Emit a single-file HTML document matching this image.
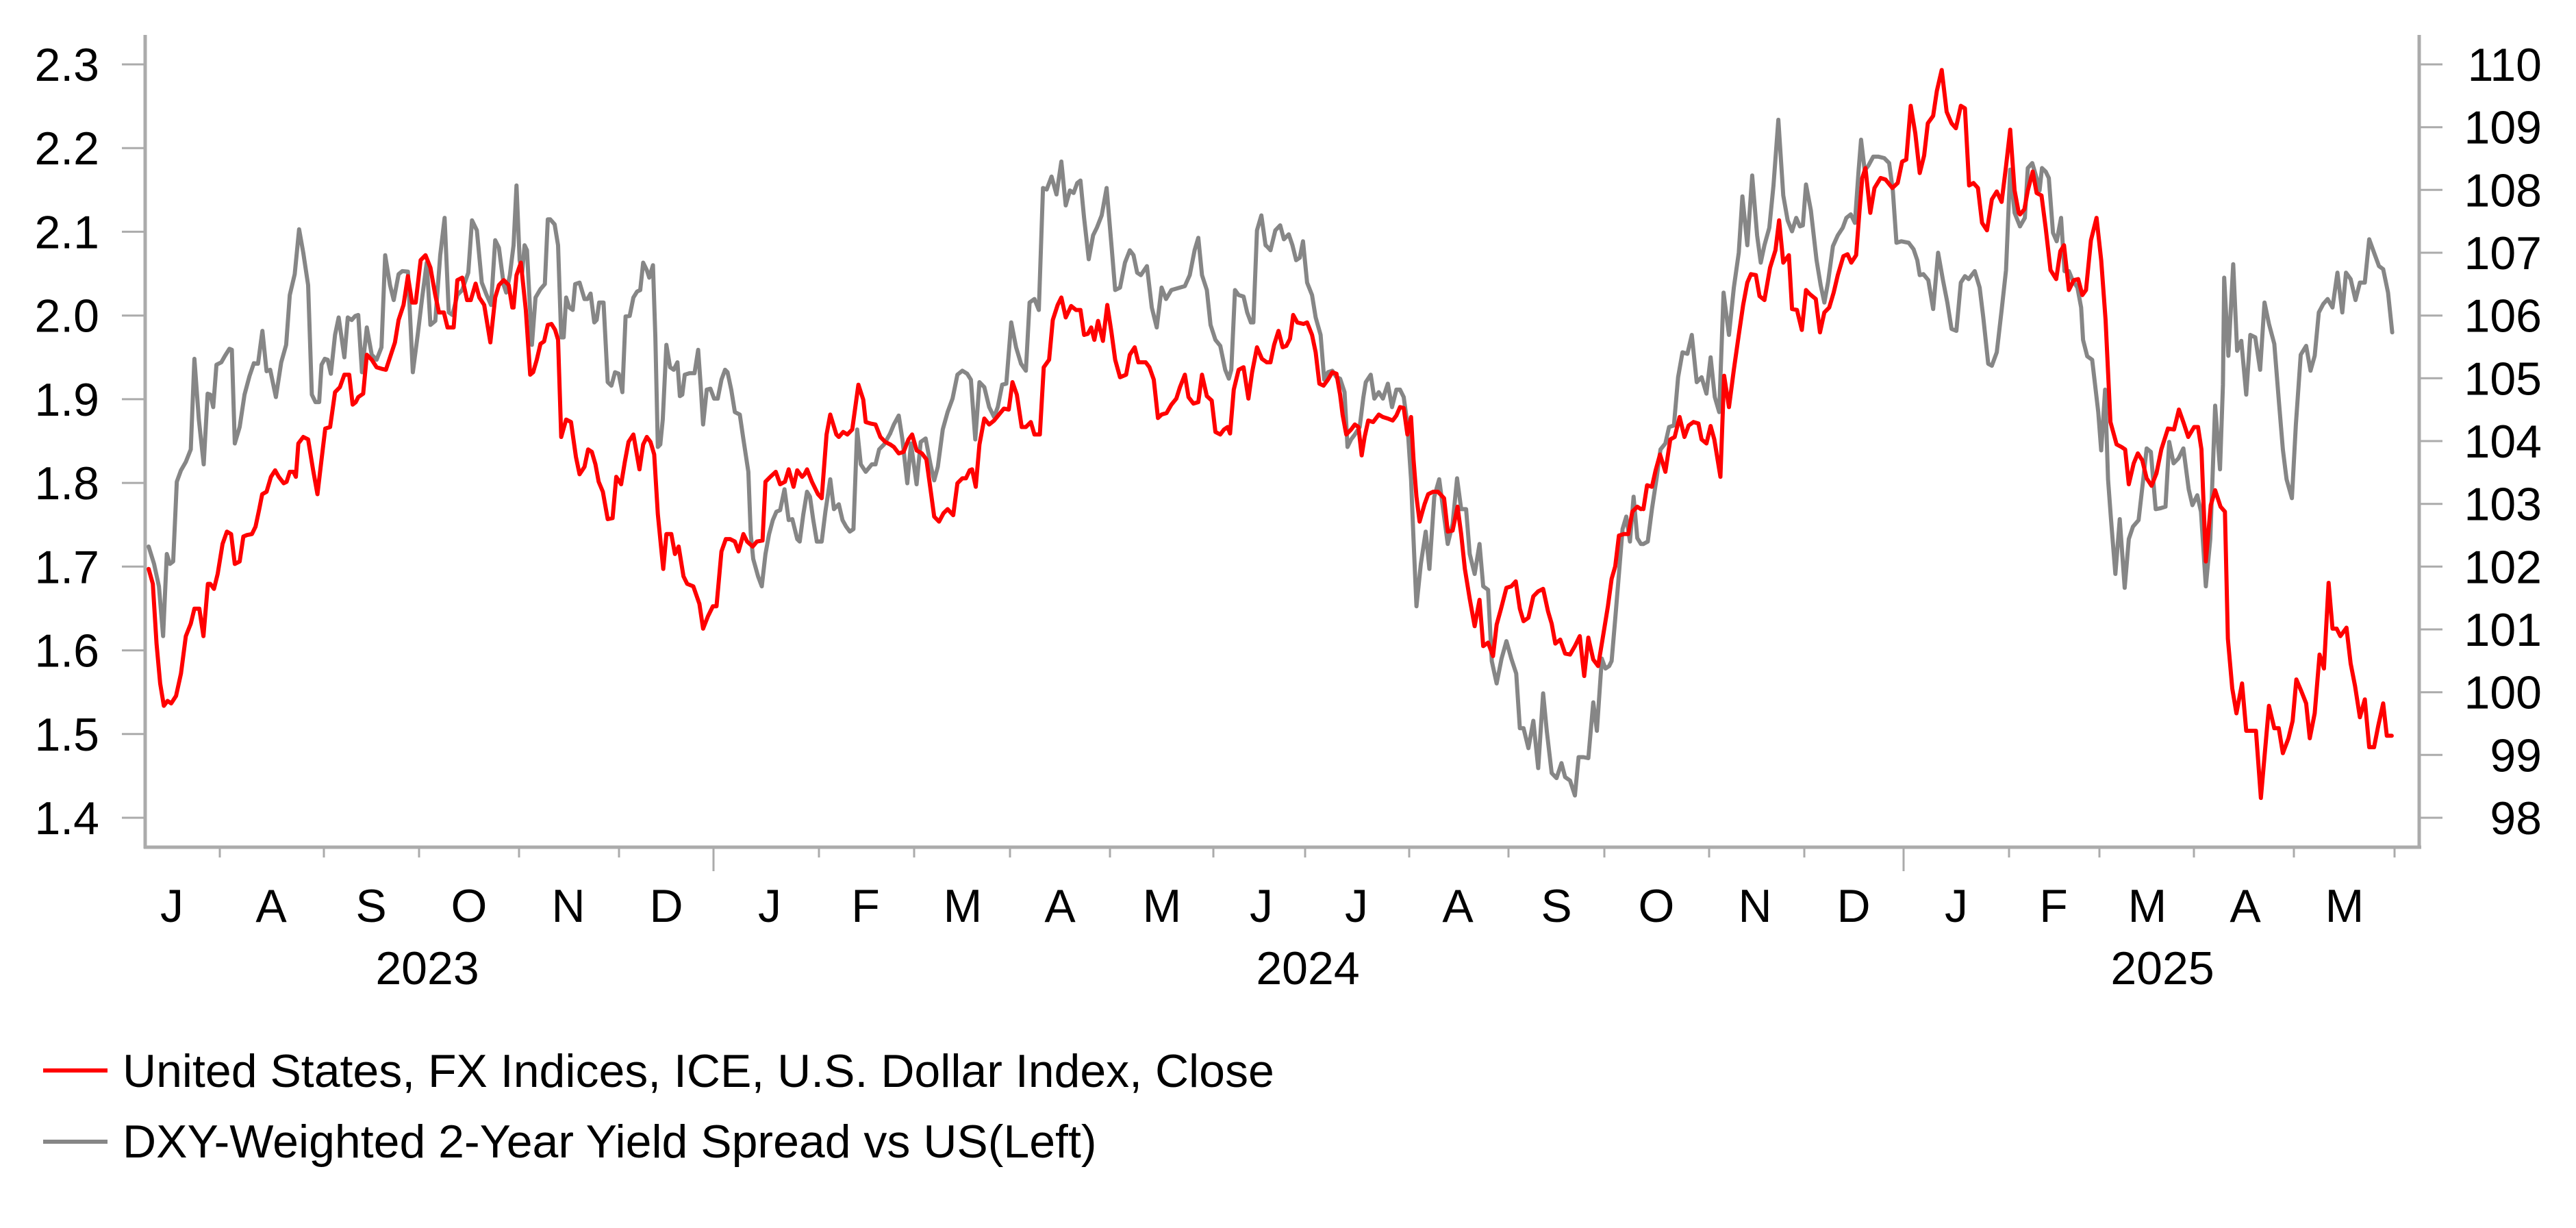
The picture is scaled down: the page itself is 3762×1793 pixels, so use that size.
<!DOCTYPE html>
<html>
<head>
<meta charset="utf-8">
<style>
  html, body { margin:0; padding:0; background:#ffffff; }
  svg { display:block; }
  text { font-family: "Liberation Sans", Arial, sans-serif; fill:#000; }
</style>
</head>
<body>
<svg xmlns="http://www.w3.org/2000/svg" width="3762" height="1793" viewBox="0 0 3762 1793">
  <rect x="0" y="0" width="3762" height="1793" fill="#ffffff"/>

  <!-- Axes -->
  <g stroke="#ABABAB" fill="none">
    <line x1="212" y1="51" x2="212" y2="1239" stroke-width="5"/>
    <line x1="3533" y1="51" x2="3533" y2="1239" stroke-width="5"/>
    <line x1="210" y1="1237" x2="3536" y2="1237" stroke-width="5"/>
    <g stroke-width="3">
      <line x1="178" y1="94" x2="212" y2="94"/>
      <line x1="178" y1="216.2" x2="212" y2="216.2"/>
      <line x1="178" y1="338.4" x2="212" y2="338.4"/>
      <line x1="178" y1="460.7" x2="212" y2="460.7"/>
      <line x1="178" y1="582.9" x2="212" y2="582.9"/>
      <line x1="178" y1="705.1" x2="212" y2="705.1"/>
      <line x1="178" y1="827.3" x2="212" y2="827.3"/>
      <line x1="178" y1="949.6" x2="212" y2="949.6"/>
      <line x1="178" y1="1071.8" x2="212" y2="1071.8"/>
      <line x1="178" y1="1194" x2="212" y2="1194"/>
    </g>
    <g stroke-width="3">
      <line x1="3533" y1="94" x2="3567" y2="94"/>
      <line x1="3533" y1="185.7" x2="3567" y2="185.7"/>
      <line x1="3533" y1="277.3" x2="3567" y2="277.3"/>
      <line x1="3533" y1="369" x2="3567" y2="369"/>
      <line x1="3533" y1="460.7" x2="3567" y2="460.7"/>
      <line x1="3533" y1="552.3" x2="3567" y2="552.3"/>
      <line x1="3533" y1="644" x2="3567" y2="644"/>
      <line x1="3533" y1="735.7" x2="3567" y2="735.7"/>
      <line x1="3533" y1="827.3" x2="3567" y2="827.3"/>
      <line x1="3533" y1="919" x2="3567" y2="919"/>
      <line x1="3533" y1="1010.7" x2="3567" y2="1010.7"/>
      <line x1="3533" y1="1102.3" x2="3567" y2="1102.3"/>
      <line x1="3533" y1="1194" x2="3567" y2="1194"/>
    </g>
    <g stroke-width="3">
      <line x1="321" y1="1239" x2="321" y2="1252"/>
      <line x1="473" y1="1239" x2="473" y2="1252"/>
      <line x1="612" y1="1239" x2="612" y2="1252"/>
      <line x1="758" y1="1239" x2="758" y2="1252"/>
      <line x1="904" y1="1239" x2="904" y2="1252"/>
      <line x1="1042" y1="1239" x2="1042" y2="1272"/>
      <line x1="1196" y1="1239" x2="1196" y2="1252"/>
      <line x1="1335" y1="1239" x2="1335" y2="1252"/>
      <line x1="1475" y1="1239" x2="1475" y2="1252"/>
      <line x1="1621" y1="1239" x2="1621" y2="1252"/>
      <line x1="1772" y1="1239" x2="1772" y2="1252"/>
      <line x1="1906" y1="1239" x2="1906" y2="1252"/>
      <line x1="2058" y1="1239" x2="2058" y2="1252"/>
      <line x1="2203" y1="1239" x2="2203" y2="1252"/>
      <line x1="2343" y1="1239" x2="2343" y2="1252"/>
      <line x1="2496" y1="1239" x2="2496" y2="1252"/>
      <line x1="2635" y1="1239" x2="2635" y2="1252"/>
      <line x1="2780" y1="1239" x2="2780" y2="1272"/>
      <line x1="2934" y1="1239" x2="2934" y2="1252"/>
      <line x1="3066" y1="1239" x2="3066" y2="1252"/>
      <line x1="3204" y1="1239" x2="3204" y2="1252"/>
      <line x1="3350" y1="1239" x2="3350" y2="1252"/>
      <line x1="3497" y1="1239" x2="3497" y2="1252"/>
    </g>
  </g>

  <!-- Left labels -->
  <g font-size="68" text-anchor="end">
    <text x="145" y="118">2.3</text>
    <text x="145" y="240.2">2.2</text>
    <text x="145" y="362.4">2.1</text>
    <text x="145" y="484.7">2.0</text>
    <text x="145" y="606.9">1.9</text>
    <text x="145" y="729.1">1.8</text>
    <text x="145" y="851.3">1.7</text>
    <text x="145" y="973.6">1.6</text>
    <text x="145" y="1095.8">1.5</text>
    <text x="145" y="1218">1.4</text>
  </g>
  <!-- Right labels -->
  <g font-size="68" text-anchor="end">
    <text x="3712" y="118">110</text>
    <text x="3712" y="209.7">109</text>
    <text x="3712" y="301.3">108</text>
    <text x="3712" y="393">107</text>
    <text x="3712" y="484.7">106</text>
    <text x="3712" y="576.3">105</text>
    <text x="3712" y="668">104</text>
    <text x="3712" y="759.7">103</text>
    <text x="3712" y="851.3">102</text>
    <text x="3712" y="943">101</text>
    <text x="3712" y="1034.7">100</text>
    <text x="3712" y="1126.3">99</text>
    <text x="3712" y="1218">98</text>
  </g>

  <!-- Month labels -->
  <g font-size="68" text-anchor="middle">
    <text x="251" y="1346">J</text>
    <text x="396" y="1346">A</text>
    <text x="542" y="1346">S</text>
    <text x="685" y="1346">O</text>
    <text x="830" y="1346">N</text>
    <text x="973" y="1346">D</text>
    <text x="1124" y="1346">J</text>
    <text x="1264" y="1346">F</text>
    <text x="1406" y="1346">M</text>
    <text x="1548" y="1346">A</text>
    <text x="1697" y="1346">M</text>
    <text x="1842" y="1346">J</text>
    <text x="1981" y="1346">J</text>
    <text x="2129" y="1346">A</text>
    <text x="2273" y="1346">S</text>
    <text x="2419" y="1346">O</text>
    <text x="2563" y="1346">N</text>
    <text x="2707" y="1346">D</text>
    <text x="2857" y="1346">J</text>
    <text x="2999" y="1346">F</text>
    <text x="3136" y="1346">M</text>
    <text x="3279" y="1346">A</text>
    <text x="3424" y="1346">M</text>
    <text x="624" y="1437">2023</text>
    <text x="1910" y="1437">2024</text>
    <text x="3158" y="1437">2025</text>
  </g>

  <!-- Gray series -->
  <g fill="none" stroke="#868686" stroke-width="6" stroke-linejoin="round" stroke-linecap="round">
    <polyline vector-effect="non-scaling-stroke" transform="translate(200,60) scale(0.357143,0.727061)" points="48,1015 70,1050 90,1095 107,1195 122,1030 135,1050 148,1045 163,885 180,862 200,845 220,820 235,638 253,760 273,850 289,708 300,710 312,735 325,650 345,645 360,632 378,618 388,620 400,808 420,775 440,710 460,673 478,647 495,648 513,582 530,663 545,660 568,715 590,645 610,610 625,510 645,468 663,378 680,425 700,490 715,710 730,725 745,725 755,650 768,638 780,640 793,668 810,590 825,555 848,635 862,555 878,560 893,552 905,550 920,665 940,575 960,630 980,640 1000,615 1015,430 1035,490 1050,520 1070,468 1085,462 1108,463 1128,665 1148,590 1165,520 1185,445 1200,570 1220,562 1240,430 1258,355 1275,545 1290,550 1310,510 1330,500 1355,465 1370,360 1390,380 1410,485 1430,510 1448,530 1465,400 1480,415 1500,490 1510,505 1525,470 1540,410"/>
    <polyline vector-effect="non-scaling-stroke" transform="translate(750,60) scale(0.357143,0.727061)" points="0,410 12,290 25,440 35,465 45,410 55,420 75,610 90,515 110,498 128,488 140,358 150,358 168,368 182,410 195,595 205,595 215,515 228,535 242,540 252,488 270,485 290,518 302,518 315,507 330,565 340,560 350,525 368,525 385,685 400,692 415,665 430,668 445,705 458,553 475,552 490,515 505,503 518,500 530,445 545,460 555,475 570,450 580,595 590,815 600,810 610,760 625,610 640,655 655,660 670,645 680,713 690,710 700,670 720,667 740,667 755,620 765,690 775,770 790,700 805,698 820,718 835,718 850,680 865,660 875,665 890,700 905,745 925,750 940,800 960,865 970,990 980,1040 1000,1075 1015,1095 1030,1030 1045,990 1060,962 1075,945 1090,942 1108,900 1125,962 1140,960 1160,1000 1170,1005 1185,950 1200,905 1212,915 1225,960 1240,1005 1260,1005 1275,945 1295,880 1310,940 1330,930 1345,962 1360,975 1375,985 1390,980 1405,780 1420,850 1440,865 1465,850 1480,850 1495,820 1515,810 1540,788"/>
    <polyline vector-effect="non-scaling-stroke" transform="translate(1300,60) scale(0.357143,0.727061)" points="0,788 15,770 35,752 50,800 70,888 85,808 108,890 125,805 145,798 165,850 180,882 195,855 215,780 235,745 255,718 275,670 295,662 315,668 330,680 348,800 365,685 385,695 405,735 425,755 440,735 458,690 475,688 495,565 515,615 535,648 555,662 570,525 590,518 608,540 625,295 640,298 660,272 680,308 700,242 718,330 735,300 750,305 765,285 778,280 793,355 812,438 830,390 845,375 865,350 885,295 905,410 920,500 940,495 960,445 980,420 995,430 1010,465 1025,470 1050,452 1070,535 1090,575 1110,495 1128,518 1150,500 1185,495 1205,492 1225,470 1245,420 1260,395 1275,470 1295,500 1310,570 1330,600 1350,612 1370,660 1385,678 1395,660 1410,500 1425,510 1445,513 1460,545 1475,565 1485,565 1500,380 1518,350 1535,410 1540,412"/>
    <polyline vector-effect="non-scaling-stroke" transform="translate(1850,60) scale(0.357143,0.727061)" points="0,412 15,420 35,380 55,370 70,398 90,388 105,410 120,440 135,435 148,402 165,485 185,510 200,555 220,590 235,680 250,665 268,662 285,675 300,678 318,705 330,815 345,800 360,790 380,775 395,715 405,685 425,670 440,718 458,705 475,718 495,688 512,735 530,700 545,700 560,715 575,770 590,880 600,1000 612,1135 630,1050 650,985 665,1060 685,915 705,880 720,935 740,1010 760,970 778,878 795,940 815,940 830,1030 850,1070 870,1010 885,1095 905,1102 920,1245 940,1290 960,1240 980,1205 1000,1240 1020,1270 1035,1380 1050,1380 1070,1420 1090,1365 1110,1460 1130,1310 1145,1385 1165,1470 1185,1480 1205,1450 1220,1478 1240,1485 1260,1515 1275,1438 1295,1438 1315,1440 1335,1328 1350,1385 1370,1240 1385,1260 1400,1255 1410,1245 1425,1160 1440,1070 1455,980 1470,955 1485,1005 1500,915 1515,998 1530,1010 1540,1010"/>
    <polyline vector-effect="non-scaling-stroke" transform="translate(2400,60) scale(0.357143,0.727061)" points="0,1010 18,1005 35,940 55,875 70,820 90,808 105,775 125,772 142,675 160,625 180,628 198,590 218,685 238,675 258,708 275,635 292,715 310,745 328,505 350,590 370,495 390,425 405,312 425,410 445,270 465,390 480,445 495,410 515,375 532,290 552,158 572,310 590,360 608,382 625,355 640,372 652,370 665,288 685,340 708,440 725,490 740,525 755,485 775,412 795,390 815,375 830,355 848,348 865,365 880,260 890,198 905,260 920,250 940,232 960,232 985,235 1005,245 1020,300 1035,405 1055,402 1085,405 1105,418 1120,440 1130,470 1145,468 1165,480 1185,538 1205,425 1225,480 1243,525 1260,578 1280,582 1298,485 1315,472 1330,478 1355,462 1375,495 1390,555 1410,648 1425,652 1445,625 1465,540 1483,460 1500,258 1518,345 1540,372"/>
    <polyline vector-effect="non-scaling-stroke" transform="translate(2950,60) scale(0.357143,0.727061)" points="0,372 20,355 32,255 50,245 68,275 80,300 90,255 105,262 118,275 135,385 150,402 168,355 182,462 200,462 215,480 235,495 250,535 258,600 275,633 295,640 320,745 332,822 348,700 360,880 372,960 390,1070 408,960 428,1098 445,1000 462,975 485,962 505,875 518,818 535,825 555,940 575,938 595,935 610,805 628,848 648,838 668,818 690,900 705,932 725,912 740,945 760,1095 778,1000 798,732 818,860 830,690 835,475 852,632 872,448 888,622 905,602 925,710 942,590 962,595 982,660 1000,525 1018,568 1040,608 1058,720 1075,820 1090,880 1112,918 1128,770 1148,630 1170,612 1188,662 1205,632 1222,545 1240,528 1258,518 1278,535 1298,465 1318,545 1333,465 1352,478 1372,520 1390,485 1410,485 1428,398 1450,428 1468,452 1485,458 1505,505 1522,585"/>
  </g>

  <!-- Red series -->
  <g fill="none" stroke="#FF0000" stroke-width="6" stroke-linejoin="round" stroke-linecap="round">
    <polyline vector-effect="non-scaling-stroke" transform="translate(200,60) scale(0.357143,0.727061)" points="48,1060 65,1090 80,1210 95,1290 110,1335 125,1325 140,1330 160,1315 180,1270 200,1195 220,1170 235,1140 255,1140 272,1195 290,1090 300,1090 315,1100 330,1070 350,1010 368,985 385,990 400,1050 420,1045 435,995 450,992 470,990 485,975 500,940 512,910 530,905 548,875 565,862 580,875 600,888 612,885 625,865 640,865 650,875 660,808 680,795 700,800 720,860 738,910 755,840 770,778 790,775 810,705 830,695 848,670 868,670 882,730 895,725 905,715 925,708 940,630 960,640 980,655 1000,658 1018,660 1035,635 1055,605 1070,560 1090,530 1108,472 1125,525 1140,525 1160,440 1180,430 1200,455 1220,510 1235,545 1255,545 1270,575 1295,575 1310,480 1330,475 1350,520 1365,520 1385,487 1400,515 1420,530 1445,605 1465,515 1480,490 1500,480 1520,490 1535,535 1540,535"/>
    <polyline vector-effect="non-scaling-stroke" transform="translate(750,60) scale(0.357143,0.727061)" points="0,535 12,470 30,445 50,540 68,670 80,665 95,640 110,608 125,603 140,570 155,568 170,580 182,600 195,795 215,760 235,765 255,835 270,870 290,855 305,820 320,825 335,850 348,885 365,905 385,960 405,958 420,875 440,890 455,845 470,805 490,790 515,860 530,810 545,795 560,805 575,830 590,950 612,1060 625,990 645,990 660,1030 675,1015 695,1075 710,1090 735,1095 760,1130 775,1180 795,1155 815,1135 830,1135 850,1025 868,1000 885,1000 905,1005 920,1025 940,990 955,1005 978,1015 995,1005 1018,1003 1030,885 1050,875 1072,865 1090,890 1110,885 1125,860 1145,895 1160,862 1180,875 1190,870 1200,860 1220,885 1245,910 1260,918 1280,790 1295,750 1320,790 1330,795 1348,785 1365,790 1385,780 1410,690 1430,720 1440,765 1460,768 1480,770 1500,795 1520,805 1540,810"/>
    <polyline vector-effect="non-scaling-stroke" transform="translate(1300,60) scale(0.357143,0.727061)" points="0,810 15,815 35,828 55,825 75,800 90,790 108,822 130,828 148,840 165,900 180,955 200,965 218,948 235,940 258,952 275,888 295,878 310,878 325,862 335,860 350,895 365,810 385,758 405,770 425,762 445,750 465,738 485,740 500,685 518,710 538,775 555,775 575,765 590,790 612,790 628,655 650,640 665,560 685,530 700,515 718,555 740,532 760,540 778,540 793,590 808,588 822,575 835,600 850,562 870,602 888,530 905,585 920,640 940,675 965,670 980,630 1000,615 1015,645 1030,645 1045,645 1060,655 1078,680 1095,757 1110,750 1130,747 1150,730 1170,718 1185,695 1205,670 1220,715 1240,728 1260,725 1275,670 1295,713 1315,722 1330,785 1350,790 1365,780 1380,775 1390,788 1405,700 1425,660 1445,655 1465,718 1480,665 1500,615 1520,638 1540,645"/>
    <polyline vector-effect="non-scaling-stroke" transform="translate(1850,60) scale(0.357143,0.727061)" points="0,645 15,645 30,610 48,582 65,615 80,612 95,598 108,550 125,565 150,568 165,565 185,590 200,625 215,688 232,692 250,680 268,665 285,668 300,710 310,750 325,790 345,780 360,770 375,775 388,832 400,795 415,762 435,765 458,750 475,755 495,758 515,762 530,752 545,735 560,737 575,790 590,755 600,840 612,915 625,965 645,930 660,910 680,905 700,905 725,918 740,985 760,983 780,935 795,990 810,1060 830,1120 850,1175 870,1122 885,1215 905,1208 925,1235 940,1172 958,1140 980,1098 1000,1095 1018,1085 1035,1140 1050,1165 1070,1158 1090,1115 1110,1105 1130,1100 1150,1145 1165,1170 1180,1210 1200,1202 1220,1230 1240,1232 1260,1215 1280,1195 1298,1275 1315,1198 1335,1242 1355,1255 1375,1195 1395,1135 1410,1080 1425,1055 1440,993 1460,990 1478,990 1495,945 1515,935 1530,940 1540,938"/>
    <polyline vector-effect="non-scaling-stroke" transform="translate(2400,60) scale(0.357143,0.727061)" points="0,940 15,892 35,895 50,862 68,830 90,865 110,800 128,795 148,755 168,795 185,772 205,765 225,768 238,800 258,808 275,773 290,800 315,875 330,672 350,735 370,660 390,590 408,530 425,485 440,468 460,470 475,512 495,520 518,455 540,420 555,360 572,445 595,430 608,538 628,540 648,580 665,500 680,508 705,518 722,585 740,545 760,535 778,505 795,470 818,432 835,428 850,445 870,430 883,345 895,275 908,255 928,345 945,295 970,275 990,278 1018,295 1040,285 1058,242 1075,238 1093,130 1112,185 1130,265 1148,230 1163,165 1185,150 1200,100 1220,58 1240,142 1260,165 1278,175 1298,130 1315,135 1332,290 1350,285 1368,295 1385,365 1405,380 1425,318 1445,302 1465,323 1482,255 1500,178 1518,300 1535,345 1540,348"/>
    <polyline vector-effect="non-scaling-stroke" transform="translate(2950,60) scale(0.357143,0.727061)" points="0,348 18,338 32,300 52,262 68,305 88,310 105,375 125,460 148,478 165,422 180,410 200,500 220,480 238,478 255,510 270,500 290,400 313,355 332,440 350,560 370,765 395,810 415,815 430,820 445,890 465,848 482,828 500,842 518,878 538,893 558,868 578,820 605,778 630,780 650,740 670,768 688,795 712,775 728,775 742,820 760,1045 780,932 798,902 820,935 838,945 850,1200 868,1300 885,1350 908,1290 925,1385 945,1385 965,1385 985,1520 1018,1335 1040,1380 1058,1380 1075,1430 1098,1400 1115,1365 1130,1282 1150,1305 1170,1330 1185,1400 1205,1350 1225,1232 1243,1260 1262,1088 1278,1180 1295,1180 1310,1195 1335,1178 1352,1250 1370,1295 1390,1358 1410,1322 1428,1418 1448,1418 1465,1375 1485,1330 1500,1395 1520,1395"/>
  </g>

  <!-- Legend -->
  <line x1="63" y1="1563" x2="157" y2="1563" stroke="#FF0000" stroke-width="6"/>
  <text x="179" y="1587" font-size="68">United States, FX Indices, ICE, U.S. Dollar Index, Close</text>
  <line x1="63" y1="1667" x2="157" y2="1667" stroke="#868686" stroke-width="6"/>
  <text x="179" y="1690" font-size="68">DXY-Weighted 2-Year Yield Spread vs US(Left)</text>
</svg>
<script>
(function(){
  var ps = document.querySelectorAll('polyline[transform]');
  for (var i = 0; i < ps.length; i++) {
    var p = ps[i];
    var m = /translate\(([-\d.]+),([-\d.]+)\)\s*scale\(([-\d.]+),([-\d.]+)\)/.exec(p.getAttribute('transform'));
    if (!m) continue;
    var tx = +m[1], ty = +m[2], sx = +m[3], sy = +m[4];
    var pts = p.getAttribute('points').trim().split(/\s+/).map(function(s){
      var a = s.split(',');
      return (tx + sx * (+a[0])).toFixed(1) + ',' + (ty + sy * (+a[1])).toFixed(1);
    });
    p.setAttribute('points', pts.join(' '));
    p.removeAttribute('transform');
    p.removeAttribute('vector-effect');
  }
})();
</script>
</body>
</html>
